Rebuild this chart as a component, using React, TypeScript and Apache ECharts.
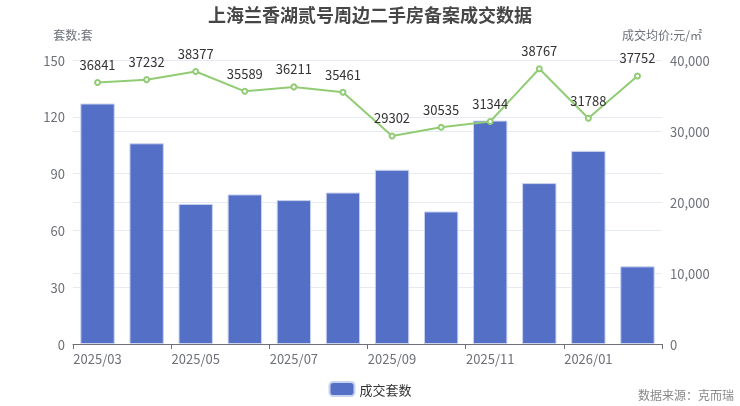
import React, { useEffect, useRef } from "react";
import * as echarts from "echarts";

const categories = ["2025/03", "2025/04", "2025/05", "2025/06", "2025/07", "2025/08", "2025/09", "2025/10", "2025/11", "2025/12", "2026/01", "2026/02"];
const dealCounts = [127, 106, 74, 79, 76, 80, 92, 70, 118, 85, 102, 41];
const avgPrices = [36841, 37232, 38377, 35589, 36211, 35461, 29302, 30535, 31344, 38767, 31788, 37752];

export default function App() {
  const ref = useRef<HTMLDivElement>(null);
  useEffect(() => {
    const chart = echarts.init(ref.current!, null, { renderer: "svg" });
    const font = "'Noto Sans CJK SC', 'Noto Sans', sans-serif";
    chart.setOption({
      animation: false,
      textStyle: { fontFamily: font },
      title: {
        text: "上海兰香湖贰号周边二手房备案成交数据",
        left: "center",
        top: 0,
        textStyle: { fontSize: 18, fontWeight: "bold", color: "#464646", fontFamily: font },
      },
      grid: { left: 73, right: 78, top: 60, bottom: 62 },
      legend: {
        bottom: 4,
        left: "center",
        data: ["成交套数"],
        itemWidth: 25,
        itemHeight: 14,
        textStyle: { fontSize: 13, color: "#333", fontFamily: font },
      },
      graphic: [
        {
          type: "text",
          right: 6,
          bottom: 6,
          style: { text: "数据来源：克而瑞", fontSize: 12, fill: "#888", fontFamily: font },
        },
      ],
      xAxis: {
        type: "category",
        data: categories,
        axisTick: { show: true, alignWithLabel: false, interval: 1 },
        axisLine: { lineStyle: { color: "#6e7079" } },
        axisLabel: { interval: 1, color: "#6e7079", fontSize: 13 },
      },
      yAxis: [
        {
          type: "value",
          name: "套数:套",
          nameGap: 20,
          min: 0,
          max: 150,
          interval: 30,
          nameTextStyle: { color: "#6e7079", fontSize: 12 },
          axisLabel: { color: "#6e7079", fontSize: 13 },
          splitLine: { lineStyle: { color: "#e6eaf2" } },
        },
        {
          type: "value",
          name: "成交均价:元/㎡",
          nameGap: 20,
          min: 0,
          max: 40000,
          interval: 10000,
          nameTextStyle: { color: "#6e7079", fontSize: 12 },
          axisLabel: { color: "#6e7079", fontSize: 13 },
          splitLine: { lineStyle: { color: "#e6eaf2" } },
        },
      ],
      series: [
        {
          name: "成交套数",
          type: "bar",
          data: dealCounts,
          barWidth: "70%",
          itemStyle: { color: "#5470c6", borderColor: "#c9d3f0", borderWidth: 1 },
        },
        {
          name: "成交均价",
          type: "line",
          yAxisIndex: 1,
          data: avgPrices,
          symbol: "emptyCircle",
          symbolSize: 5,
          lineStyle: { color: "#91cc75", width: 2 },
          itemStyle: { color: "#91cc75" },
          label: { show: true, position: "top", color: "#333", fontSize: 13, distance: 8 },
        },
      ],
    });
    return () => chart.dispose();
  }, []);
  return <div ref={ref} style={{ position: "fixed", left: 0, top: 0, width: 740, height: 406 }} />;
}
